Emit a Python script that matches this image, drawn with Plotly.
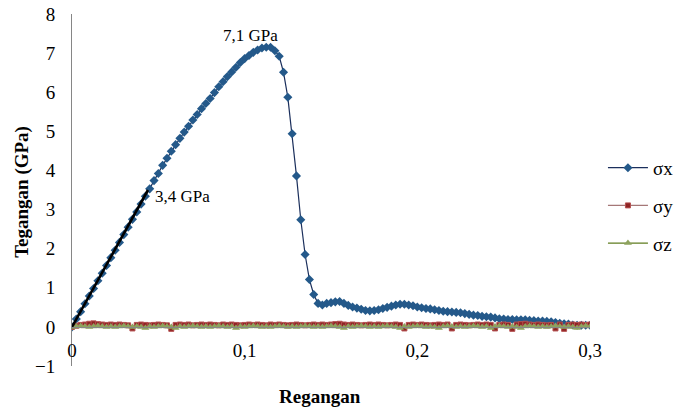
import plotly.graph_objects as go

strain = [0.0, 0.0025, 0.005, 0.0075, 0.01, 0.0125, 0.015, 0.0175, 0.02, 0.0225,
          0.025, 0.0275, 0.03, 0.0325, 0.035, 0.0375, 0.04, 0.0425, 0.045, 0.0475,
          0.05, 0.0525, 0.055, 0.0575, 0.06, 0.0625, 0.065, 0.0675, 0.07, 0.0725,
          0.075, 0.0775, 0.08, 0.0825, 0.085, 0.0875, 0.09, 0.0925, 0.095, 0.0975,
          0.1, 0.1025, 0.105, 0.1075, 0.11, 0.1125, 0.115, 0.1175, 0.12, 0.1225,
          0.125, 0.1275, 0.13, 0.1325, 0.135, 0.1375, 0.14, 0.1425, 0.145, 0.1475,
          0.15, 0.1525, 0.155, 0.1575, 0.16, 0.1625, 0.165, 0.1675, 0.17, 0.1725,
          0.175, 0.1775, 0.18, 0.1825, 0.185, 0.1875, 0.19, 0.1925, 0.195, 0.1975,
          0.2, 0.2025, 0.205, 0.2075, 0.21, 0.2125, 0.215, 0.2175, 0.22, 0.2225,
          0.225, 0.2275, 0.23, 0.2325, 0.235, 0.2375, 0.24, 0.2425, 0.245, 0.2475,
          0.25, 0.2525, 0.255, 0.2575, 0.26, 0.2625, 0.265, 0.2675, 0.27, 0.2725,
          0.275, 0.2775, 0.28, 0.2825, 0.285, 0.2875, 0.29, 0.2925, 0.295, 0.2975,
          0.3]

sigma_x = [0.00, 0.20, 0.39, 0.59, 0.79, 0.98, 1.18, 1.37, 1.57, 1.77,
           1.96, 2.16, 2.36, 2.55, 2.75, 2.94, 3.14, 3.34, 3.53, 3.74,
           3.92, 4.13, 4.31, 4.49, 4.66, 4.82, 4.98, 5.13, 5.29, 5.43,
           5.58, 5.71, 5.84, 5.99, 6.14, 6.27, 6.40, 6.52, 6.64, 6.76,
           6.86, 6.94, 7.02, 7.08, 7.13, 7.15, 7.15, 7.06, 6.92, 6.51,
           5.87, 4.94, 3.86, 2.74, 1.85, 1.21, 0.83, 0.60, 0.56, 0.60,
           0.62, 0.64, 0.65, 0.60, 0.55, 0.51, 0.48, 0.45, 0.42, 0.41,
           0.42, 0.44, 0.47, 0.50, 0.53, 0.56, 0.58, 0.58, 0.56, 0.54,
           0.51, 0.49, 0.47, 0.46, 0.44, 0.42, 0.40, 0.39, 0.38, 0.37,
           0.36, 0.34, 0.32, 0.30, 0.29, 0.27, 0.26, 0.25, 0.23, 0.21,
           0.20, 0.19, 0.19, 0.18, 0.18, 0.18, 0.17, 0.16, 0.15, 0.15,
           0.14, 0.13, 0.11, 0.09, 0.08, 0.07, 0.05, 0.04, 0.04, 0.04,
           0.04]

sigma_y = [0.00, 0.03, 0.05, 0.06, 0.08, 0.09, 0.07, 0.06, 0.05, 0.06,
           0.05, 0.06, 0.05, 0.04, -0.04, 0.05, 0.06, 0.05, 0.04, 0.05,
           0.06, 0.05, 0.04, -0.05, 0.05, 0.06, 0.05, 0.06, 0.04, 0.05,
           0.06, 0.05, 0.06, 0.05, 0.04, 0.06, 0.05, 0.06, 0.05, 0.04,
           0.05, 0.06, 0.05, 0.06, 0.05, 0.04, 0.06, 0.05, 0.06, 0.05,
           0.04, 0.05, 0.06, 0.05, 0.04, 0.05, 0.06, 0.05, 0.06, 0.05,
           0.06, 0.07, 0.08, 0.06, 0.05, 0.06, 0.05, 0.04, 0.05, 0.06,
           0.05, 0.06, 0.05, 0.04, 0.05, 0.06, 0.05, -0.04, 0.05, 0.06,
           0.05, 0.06, 0.05, 0.04, 0.05, 0.06, 0.05, 0.06, -0.04, 0.05,
           0.06, 0.05, 0.04, 0.05, 0.06, 0.05, 0.06, 0.05, -0.04, 0.05,
           0.06, 0.05, -0.05, 0.06, 0.07, 0.08, 0.06, 0.05, 0.06, 0.05,
           0.04, 0.05, -0.04, 0.06, -0.05, 0.05, 0.06, 0.05, 0.06, 0.05,
           0.06]

sigma_z = [0.00, 0.01, 0.02, 0.01, 0.00, 0.01, 0.02, 0.01, 0.00, 0.01,
           0.00, 0.01, 0.02, 0.01, 0.00, 0.01, 0.00, -0.03, 0.01, 0.00,
           0.01, 0.02, 0.01, 0.00, -0.03, 0.01, 0.00, 0.01, 0.02, 0.01,
           0.00, 0.01, 0.00, 0.01, 0.02, 0.01, 0.00, 0.01, -0.03, 0.01,
           0.00, 0.01, 0.02, 0.01, 0.00, 0.01, 0.00, 0.01, 0.02, 0.01,
           0.00, 0.01, 0.00, 0.01, 0.02, 0.01, 0.00, 0.01, 0.00, 0.01,
           0.02, 0.01, 0.00, -0.03, 0.01, 0.00, 0.01, 0.02, 0.01, 0.00,
           0.01, 0.00, 0.01, 0.02, 0.01, 0.00, -0.03, 0.01, 0.00, 0.01,
           0.02, 0.01, 0.00, 0.01, 0.00, -0.03, 0.01, 0.02, 0.01, 0.00,
           0.01, 0.00, 0.01, 0.02, 0.01, 0.00, 0.01, -0.03, 0.01, 0.02,
           0.01, 0.00, 0.01, 0.00, -0.03, 0.01, 0.02, 0.01, 0.00, 0.01,
           0.00, 0.01, 0.02, 0.01, 0.00, 0.01, 0.00, -0.03, 0.01, 0.02,
           0.01]

fit_x = [0.0, 0.044]
fit_y = [0.0, 3.5]

x_ticks = [0, 0.1, 0.2, 0.3]
y_ticks = [-1, 0, 1, 2, 3, 4, 5, 6, 7, 8]

FONT = "Times New Roman, Liberation Serif, Tinos, DejaVu Serif, serif"

fig = go.Figure()

fig.add_trace(go.Scatter(
    x=strain, y=sigma_x, name="σx", mode="lines+markers", legendgroup="gx",
    line=dict(color="#1b2f5c", width=1.2),
    marker=dict(symbol="diamond", size=7, color="#24598a",
                line=dict(color="#24598a", width=0)),
))
fig.add_trace(go.Scatter(
    x=strain, y=sigma_y, name="σy", mode="lines+markers", legendgroup="gy",
    line=dict(color="#a57777", width=1.2),
    marker=dict(symbol="square", size=5, color="#8e2424",
                line=dict(color="#b55050", width=1)),
))
fig.add_trace(go.Scatter(
    x=strain, y=sigma_z, name="σz", mode="lines+markers", legendgroup="gz",
    line=dict(color="#5f7d1f", width=1.2),
    marker=dict(symbol="triangle-up", size=7, color="#8ea35e",
                line=dict(color="#8ea35e", width=0)),
))
fig.add_trace(go.Scatter(
    x=fit_x, y=fit_y, mode="lines", showlegend=False,
    line=dict(color="black", width=2.6),
    hoverinfo="skip",
))

fig.update_layout(
    width=675, height=411,
    margin=dict(l=72, r=85, t=14, b=45, autoexpand=False),
    paper_bgcolor="white", plot_bgcolor="white",
    separators=", ",
    font=dict(family=FONT, size=19, color="black"),
    legend=dict(
        x=1.025, y=0.455, xanchor="left", yanchor="middle",
        traceorder="grouped", tracegroupgap=10,
        font=dict(family=FONT, size=19, color="black"),
        itemwidth=40, bgcolor="rgba(0,0,0,0)",
    ),
    xaxis=dict(
        range=[0, 0.3], tickvals=x_ticks, showgrid=False, zeroline=False,
        showline=True, linecolor="#868686", linewidth=1,
        anchor="free", position=1/9, ticks="", automargin=False,
        ticklabelstandoff=6,
        tickfont=dict(family=FONT, size=19, color="black"),
    ),
    yaxis=dict(
        range=[-1, 8], tickvals=y_ticks, showgrid=False, zeroline=False,
        showline=True, linecolor="#868686", linewidth=1, ticks="",
        ticklabelstandoff=12, automargin=False,
        tickfont=dict(family=FONT, size=19, color="black"),
    ),
    annotations=[
        dict(text="<b>Regangan</b>", xref="paper", yref="paper",
             x=0.479, y=-0.088, showarrow=False, xanchor="center", yanchor="middle",
             font=dict(family=FONT, size=19, color="black")),
        dict(text="<b>Tegangan (GPa)</b>", xref="paper", yref="paper",
             x=-0.097, y=0.494, showarrow=False, textangle=-90,
             xanchor="center", yanchor="middle",
             font=dict(family=FONT, size=19, color="black")),
        dict(text="7,1 GPa", xref="x", yref="y", x=0.1032, y=7.46,
             showarrow=False, font=dict(family=FONT, size=17, color="black")),
        dict(text="3,4 GPa", xref="x", yref="y", x=0.064, y=3.34,
             showarrow=False, font=dict(family=FONT, size=17, color="black")),
    ],
)

fig.write_html("out.html", config={"displayModeBar": False},
               post_script="document.body.style.margin='0';")
